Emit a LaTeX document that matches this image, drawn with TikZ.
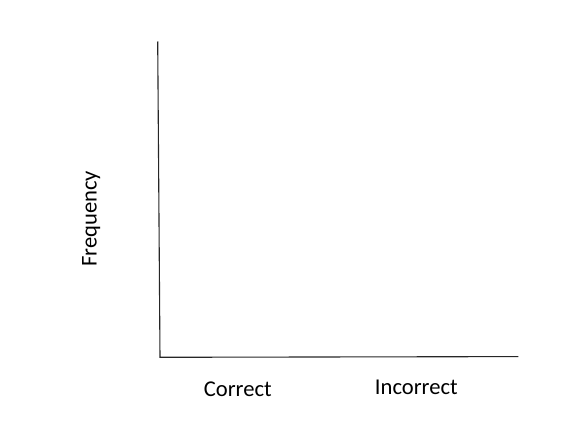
\documentclass[tikz,border=0pt]{standalone}
\usepackage{fontspec}
\setmainfont{Carlito}
\begin{document}
\begin{tikzpicture}[x=1pt,y=-1pt,
  axis/.style={draw=black!85, line width=1.1pt},
  lbl/.style={inner sep=0pt, anchor=base, font=\fontsize{22.6}{26}\selectfont}]
\useasboundingbox (0,0) rectangle (574,431);
\coordinate (top) at (157.7,41.5);
\coordinate (org) at (160,357.3);
\coordinate (xend) at (518.3,356.6);
\draw[axis] (top) -- (org) -- (xend);
\node[lbl] (correct) at (237.8,396) {Correct};
\node[lbl] (incorrect) at (416.3,394) {Incorrect};
\node[lbl, rotate=90] (freq) at (96.5,219) {Frequency};
\end{tikzpicture}
\end{document}
